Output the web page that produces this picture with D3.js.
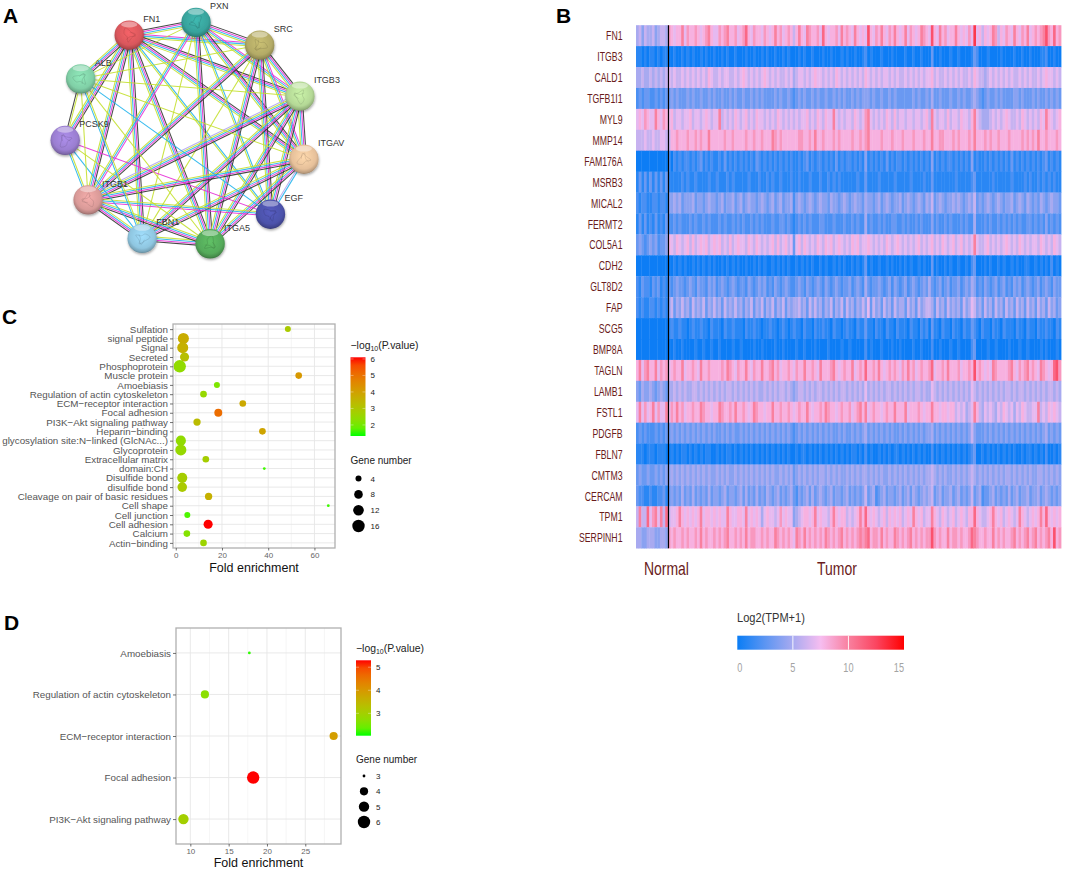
<!DOCTYPE html>
<html><head><meta charset="utf-8">
<script src="https://cdn.jsdelivr.net/npm/d3@7/dist/d3.min.js"></script>
<style>html,body{margin:0;padding:0;background:#fff}svg{display:block}</style>
</head><body><svg id="c" width="1065" height="869"></svg>
<script>
// ---------- Panel A: interaction network ----------
const netNodes = ["FN1","PXN","SRC","ITGB3","ITGAV","EGF","ITGA5","FBN1","ITGB1","PCSK9","ALB"];
const netNodeColors = ["#d9575c","#38a39c","#b3aa66","#b4d896","#e6c09a","#4c52aa","#55aa5a","#8fc6e0","#d99a98","#9a7ed0","#80cfa6"];
const netEdges = [
 ["FN1","PXN","kmcy"],["FN1","SRC","mcy"],["FN1","ITGB3","kmcy"],["FN1","ITGAV","kmcy"],["FN1","EGF","cy"],
 ["FN1","ITGA5","kmcy"],["FN1","FBN1","kmcy"],["FN1","ITGB1","kmcy"],["FN1","PCSK9","kmcy"],["FN1","ALB","kmcy"],
 ["PXN","SRC","kmcy"],["PXN","ITGB3","mcy"],["PXN","ITGAV","kmcy"],["PXN","EGF","cy"],["PXN","ITGA5","kmcy"],
 ["PXN","FBN1","y"],["PXN","ITGB1","mcy"],["PXN","ALB","y"],
 ["SRC","ITGB3","kmcy"],["SRC","ITGAV","mcy"],["SRC","EGF","kmcy"],["SRC","ITGA5","kmcy"],["SRC","ITGB1","kmcy"],
 ["SRC","FBN1","y"],["SRC","ALB","y"],
 ["ITGB3","ITGAV","kmcy"],["ITGB3","EGF","kmcy"],["ITGB3","ITGA5","kmcy"],["ITGB3","FBN1","kmcy"],["ITGB3","ITGB1","kmcyv"],["ITGB3","ALB","y"],
 ["ITGAV","EGF","cv"],["ITGAV","ITGA5","kmcy"],["ITGAV","FBN1","kmcy"],["ITGAV","ITGB1","kmcy"],["ITGAV","ALB","y"],
 ["EGF","ITGB1","mcy"],["EGF","PCSK9","m"],["EGF","ALB","c"],
 ["ITGA5","FBN1","kmcy"],["ITGA5","ITGB1","kmcy"],["ITGA5","ALB","y"],["ITGA5","PCSK9","y"],
 ["FBN1","ITGB1","kmcy"],["FBN1","ALB","cy"],["FBN1","PCSK9","c"],
 ["ITGB1","PCSK9","cy"],["ITGB1","ALB","y"],["PCSK9","ALB","ky"]
];
const edgeChannelColors = {k:"#333333",m:"#e52fd6",c:"#22b4ec",y:"#c4e030",v:"#b3a8f0"};

// ---------- Panel B: expression heatmap (Log2(TPM+1), hex digit per sample block) ----------
const heatGenes = ["FN1","ITGB3","CALD1","TGFB1I1","MYL9","MMP14","FAM176A","MSRB3","MICAL2","FERMT2","COL5A1","CDH2","GLT8D2","FAP","SCG5","BMP8A","TAGLN","LAMB1","FSTL1","PDGFB","FBLN7","CMTM3","CERCAM","TPM1","SERPINH1"];
const heatRows = [
"5646556456 6598788a79 8898789a87 7989a88978 9b87988798 78a8978986 8a87a98897 b878897a89 87a8787c87 98a8798a87 8a79878a98 7c87a89788 a878797d78 6878a96879 87a8798a78 989ac98b89",
"1101011010 1100100101 0100101001 0010100100 0100100101 0010010100 0101001000 1001000101 0010012010 0010001000 0100100100 0300100010 0100001320 0010000100 0010010010 0011200100",
"5565565656 5676766767 6767676876 6767766767 8767676787 6767667675 6776767877 6767687676 7676768767 6767767676 6767676767 7867667676 7676676876 6567676767 6766767676 6767877676",
"2323322323 2334343334 3433433434 3343343433 4334343433 3343433432 3434334343 3433434343 3434344434 3343343433 3333434334 3533433343 3434334543 2343343433 3344343334 3433434343",
"7879877a87 9878677677 8677678767 7a67676876 7867687767 6768767676 7677867687 6877a76767 7687679a76 7676876867 7677677678 6a76776867 7687768a76 5556767678 7667687676 7687a87678",
"6667667667 7668898889 8898988a88 8889889888 8988988988 8a98988888 8998898a88 9888989888 8988989a88 8898889888 9888988898 8a88998889 8988898a88 8989889888 9888898989 8a88988898",
"0000000000 0020212122 1212312121 1213121212 1212132121 2121212121 1212312122 1212131212 2121214121 2121312122 1212121212 1412121221 2121214121 1212121212 1312121212 1212312121",
"1313131313 1311111212 1121111211 2111212111 1121112112 1211211121 1211121112 1121212111 1112113111 1211111211 1112111121 1311111111 2111112311 1111211111 1211112121 1212121211",
"2122112212 2144545344 4534434544 3453445345 3454434543 4534534452 4543454345 4435443454 3454435443 4534543445 3454345435 4634543445 4543454634 3454345434 4534543543 4354345443",
"1313121312 1322323222 3232232322 2323223232 3223232322 2322332321 2323232223 3222322232 2323225232 2323223322 3232232322 2423223232 2232322522 2323223232 3232322332 3232423232",
"3432343423 3487687678 6867878678 7867686787 7687687676 7868678673 7868767687 6878678767 6878677876 7676876787 6767678676 7867687678 6786767a76 6786767678 7676876767 7687676876",
"0000000000 0000101010 0101010101 0010101010 0100101010 0101010100 1010101001 0100101010 0101013010 0100101001 0101001010 0301001010 0100102300 0101001010 0101001100 1010102010",
"2132213231 2132343323 4324332434 2343234323 3243234342 3243234322 3432432343 2432343233 4234325323 3432342432 3423432343 5323423423 3423435423 2432342342 3243423432 3423432433",
"2121122121 2146354645 3645463546 4536454645 3546354635 4635463545 5645364645 3546354636 4535464736 4536453645 5364536456 6536453645 4536457645 3645364536 4536453645 3645364534",
"0000000000 0012112110 1211211021 1102112111 0211211011 2110121012 1102110211 2110211012 1102113110 2110211021 1102110212 0311021102 1102113210 2110211021 1102110211 0211211021",
"0000000000 0000100100 0010010010 0100001001 0000100100 0010010000 1001000100 0010000100 1000002010 0010001001 0000100100 0200100010 0100002300 0010010000 1000100100 0010100010",
"8a79a88a79 8978988a78 8987a88988 8898a98798 8a87988a88 9a89788987 988a88987a 8889a87898 8a7898b889 8a87898987 98a8978988 9b78898a88 8978898c89 8787a98888 9a87989a89 87a9878bc9",
"4354454345 4355656565 5665656565 6565665656 5656565565 6565665654 5665656566 5656565665 6565657565 6565665656 5656566565 5765656565 6565657656 5656565656 6565665656 5656566565",
"7a7978a797 7a798a8978 8988a98878 8a98898a88 9878a98878 8a88988987 8988a87889 8a98878988 9789a8a789 8878988a88 8a78889878 8a88788788 6767567a86 5767657687 6757687667 7a67687876",
"2323222323 2334343434 3434343434 3343434334 3434343434 3434343432 3434343434 3434334343 3434345343 4343434334 3434343434 4534343434 3434346433 3434343434 3434343434 3434534343",
"1110111011 1001010110 1010101100 1010110101 0101010101 0101010100 1011010101 0101010101 0110102010 0101010110 1010101010 0201010101 0101012300 1010101010 1010010110 1010200101",
"3433433434 3445454545 4545454544 5454544545 4545454545 4544545453 4545454545 5454545445 4545455454 5454454545 4545454545 5654545445 4545456545 4545454545 5454545454 4554545454",
"3221121122 3134343534 3534343534 4345344345 3534353435 4345343453 2434535345 4345344345 3434346345 2345344345 3453543454 5634534453 4534346345 2334534343 5345344534 4534543434",
"6a66b79a7a 6b6778a878 7878a78878 7877a87788 7a78787578 7767978774 5678878a78 7768a87886 7678a8b878 7678687878 6787a87867 7a87687678 6787688b87 6678a87867 8767a87678 78a8b87878",
"5544555445 5498988989 8898a89889 8989a88989 8a89988989 88a9898987 a98a898989 8a98989a89 8989a9ab89 98a8988a98 989a898989 9c98988a89 989889ba98 8988a89898 89a8989a89 a8989a8c89"
];
const heatLegendTicks = [0,5,10,15];
const heatColorStops = ["#0a7df5","#5c95f2","#a8aaf0","#f6bdf0","#f9809f","#fb4560","#ff0000"];
const heatColorValues = [0,2.5,5,7.5,10,12.5,15];

// ---------- Panel C ----------
const cCategories = ["Sulfation","signal peptide","Signal","Secreted","Phosphoprotein","Muscle protein","Amoebiasis","Regulation of actin cytoskeleton","ECM\u2212receptor interaction","Focal adhesion","PI3K\u2212Akt signaling pathway","Heparin\u2212binding","glycosylation site:N\u2212linked (GlcNAc...)","Glycoprotein","Extracellular matrix","domain:CH","Disulfide bond","disulfide bond","Cleavage on pair of basic residues","Cell shape","Cell junction","Cell adhesion","Calcium","Actin\u2212binding"];
const cFold = [48.5,3.3,3,3.8,1.7,53.2,17.8,12,29,18.4,9.2,37.5,2.2,2.2,13,38.3,2.8,2.8,14.2,66,5,14,4.8,12];
const cGenes = [4,13,13,9,16,5,4,5,5,7,6,5,11,13,5,2,11,10,6,2,4,9,5,5];
const cLogP = [2.9,3.7,3.6,3.2,2.4,4.2,2.1,2.5,3.8,5.1,3.3,3.9,2.4,2.5,2.8,1.5,2.8,2.9,3.6,1.5,1.6,6.1,2.2,2.6];
const cXTicks = [0,20,40,60];
const cXMinor = [10,30,50];
const cColorTicks = [2,3,4,5,6];
const cSizeTicks = [4,8,12,16];

// ---------- Panel D ----------
const dCategories = ["Amoebiasis","Regulation of actin cytoskeleton","ECM\u2212receptor interaction","Focal adhesion","PI3K\u2212Akt signaling pathway"];
const dFold = [17.7,11.9,28.7,18.2,9.1];
const dGenes = [3,4,4,6,5];
const dLogP = [2.1,2.7,3.9,5.3,3.0];
const dXTicks = [10,15,20,25];
const dXMinor = [12.5,17.5,22.5,27.5];
const dColorTicks = [3,4,5];
const dSizeTicks = [3,4,5,6];

const svg = d3.select("#c");
const defs = svg.append("defs");
const SANS = "'Liberation Sans',Arial,sans-serif";

function narrowText(parent,t,x,y,size,sx,anchor,fill){
  return parent.append("text").attr("transform",`translate(${x},${y}) scale(${sx},1)`)
    .attr("font-family",SANS).attr("font-size",size).attr("text-anchor",anchor).attr("fill",fill).text(t);
}

// panel letters
[["A",3,23],["B",556,23],["C",2,324],["D",4,630]].forEach(([t,x,y])=>
  svg.append("text").attr("x",x).attr("y",y).attr("font-family",SANS).attr("font-weight",700).attr("font-size",21).attr("fill","#000").text(t));

// ===== Panel A =====
(function(){
  const ang = d3.scaleLinear().domain([0,netNodes.length-1]).range([-118,209.5]);
  const cx=186, cy=134, Rx=121, Ry=112, nr=14.7;
  const pos = new Map(netNodes.map((n,i)=>{const a=ang(i)*Math.PI/180;return [n,[cx+Rx*Math.cos(a),cy+Ry*Math.sin(a)]];}));
  const g = svg.append("g");
  const gap=1.6;
  netEdges.forEach(([a,b,ch])=>{
    const [x1,y1]=pos.get(a),[x2,y2]=pos.get(b);
    const dx=x2-x1,dy=y2-y1,l=Math.hypot(dx,dy),nx=-dy/l,ny=dx/l;
    [...ch].forEach((c,i)=>{
      const o=(i-(ch.length-1)/2)*gap;
      g.append("line").attr("x1",x1+nx*o).attr("y1",y1+ny*o).attr("x2",x2+nx*o).attr("y2",y2+ny*o)
       .attr("stroke",edgeChannelColors[c]).attr("stroke-width",1.05).attr("stroke-opacity",0.9);
    });
  });
  const blob = defs.append("filter").attr("id","nodeShadow").attr("x","-30%").attr("y","-30%").attr("width","160%").attr("height","160%");
  blob.append("feDropShadow").attr("dx",0.5).attr("dy",1.5).attr("stdDeviation",1.2).attr("flood-color","#000").attr("flood-opacity",0.35);
  const squiggle = d3.lineRadial().curve(d3.curveCatmullRom);
  const squiggleShape = [[0.2,3],[1.4,7],[2.4,4],[3.3,8],[4.1,3],[5,6],[5.8,9],[6.9,4],[8,7],[9,2],[10,6]];
  netNodes.forEach((n,i)=>{
    const [x,y]=pos.get(n), col=netNodeColors[i], id="ng"+i;
    const gr=defs.append("radialGradient").attr("id",id).attr("cx","50%").attr("cy","42%").attr("r","58%");
    const c=d3.color(col);
    [[0,c.brighter(0.35)],[0.72,c],[0.92,c.darker(0.55)],[1,c.darker(1.1)]].forEach(([o,k])=>gr.append("stop").attr("offset",o).attr("stop-color",k));
    const ng=svg.append("g").attr("transform",`translate(${x},${y})`);
    ng.append("circle").attr("r",nr).attr("fill",`url(#${id})`).attr("filter","url(#nodeShadow)");
    ng.append("path").attr("transform",`rotate(${i*67}) scale(0.9)`).attr("d",squiggle(squiggleShape)).attr("fill","none").attr("stroke",c.darker(1)).attr("stroke-width",0.55).attr("stroke-opacity",0.55);
    ng.append("ellipse").attr("cy",-nr*0.72).attr("rx",nr*0.55).attr("ry",nr*0.2).attr("fill","#fff").attr("opacity",0.4);
    svg.append("text").attr("x",x+14).attr("y",y-13).attr("font-family",SANS).attr("font-size",9).attr("fill","#333").text(n);
  });
})();

// ===== Panel B =====
(function(){
  const L=636,Rt=1061,T=25.2,B=548.2;
  const rows = heatRows.map(s=>[...s.replace(/\s/g,"")].map(h=>parseInt(h,16)));
  const nCol = rows[0].length;
  const x = d3.scaleBand().domain(d3.range(nCol)).range([L,Rt]);
  const y = d3.scaleBand().domain(heatGenes).range([T,B]);
  const color = d3.scaleLinear().domain(heatColorValues).range(heatColorStops).interpolate(d3.interpolateRgb);
  const blur = defs.append("filter").attr("id","soft").attr("x","-1%").attr("y","-1%").attr("width","102%").attr("height","102%");
  blur.append("feGaussianBlur").attr("stdDeviation","0.45 0.25");
  const g = svg.append("g").attr("filter","url(#soft)");
  heatGenes.forEach((gene,r)=>{
    g.selectAll(null).data(rows[r]).enter().append("rect")
     .attr("x",(d,i)=>x(i)).attr("y",y(gene)).attr("width",x.bandwidth()+0.4).attr("height",y.bandwidth()+0.3)
     .attr("fill",d=>color(d));
  });
  svg.append("line").attr("x1",x(12)+0.6).attr("x2",x(12)+0.6).attr("y1",T).attr("y2",B).attr("stroke","#000").attr("stroke-width",1.2);
  const lab = svg.append("g");
  heatGenes.forEach(d=>narrowText(lab,d,622.5,y(d)+y.bandwidth()/2+4.6,13,0.67,"end","#6a1c1c"));
  narrowText(lab,"Normal",644,575,18.5,0.755,"start","#6a1c1c");
  narrowText(lab,"Tumor",817,575,18.5,0.755,"start","#6a1c1c");
  // legend
  narrowText(svg,"Log2(TPM+1)",737,621.5,13.5,0.82,"start","#333");
  const lx = d3.scaleLinear().domain([0,15]).range([737.3,904]);
  const grad = defs.append("linearGradient").attr("id","heatLegend");
  heatColorValues.forEach((v,i)=>grad.append("stop").attr("offset",v/15).attr("stop-color",heatColorStops[i]));
  svg.append("rect").attr("x",lx(0)).attr("y",635.7).attr("width",lx(15)-lx(0)).attr("height",14).attr("fill","url(#heatLegend)");
  [5,10].forEach(v=>svg.append("line").attr("x1",lx(v)).attr("x2",lx(v)).attr("y1",635.7).attr("y2",649.7).attr("stroke","#fff").attr("stroke-width",0.9));
  heatLegendTicks.forEach(d=>narrowText(svg,String(d),lx(d)+(d===0?0:0),672,13.5,0.68,d===0?"start":d===15?"end":"middle","#a3a3a3"));
})();

// ===== Bubble panels =====
function bubblePanel(o){
  const x=d3.scaleLinear().domain(o.xDomain).range([o.L,o.R]);
  const y=d3.scalePoint().domain(o.cats).range([o.T,o.B]).padding(o.pad);
  const g=svg.append("g");
  const col=d3.scaleLinear().domain(o.cDomain).range(["#00ff00","#ff0000"]).interpolate(d3.interpolateLab).clamp(true);
  const size=d3.scaleLinear().domain(o.sDomain).range(o.sRange).clamp(true);
  // grid
  o.minor.forEach(v=>g.append("line").attr("x1",x(v)).attr("x2",x(v)).attr("y1",o.T).attr("y2",o.B).attr("stroke","#f0f0f0").attr("stroke-width",0.6));
  o.ticks.forEach(v=>g.append("line").attr("x1",x(v)).attr("x2",x(v)).attr("y1",o.T).attr("y2",o.B).attr("stroke","#e6e6e6").attr("stroke-width",0.9));
  o.cats.forEach(v=>g.append("line").attr("x1",o.L).attr("x2",o.R).attr("y1",y(v)).attr("y2",y(v)).attr("stroke","#e6e6e6").attr("stroke-width",0.9));
  // points
  g.selectAll("circle").data(o.cats.map((c,i)=>({c,f:o.fold[i],n:o.genes[i],p:o.logp[i]}))).enter().append("circle")
   .attr("cx",d=>x(d.f)).attr("cy",d=>y(d.c)).attr("r",d=>size(d.n)).attr("fill",d=>col(d.p));
  g.append("rect").attr("x",o.L).attr("y",o.T).attr("width",o.R-o.L).attr("height",o.B-o.T).attr("fill","none").attr("stroke","#b0b0b0").attr("stroke-width",1.3);
  // axes
  const ax=g.append("g").attr("transform",`translate(0,${o.B})`).call(d3.axisBottom(x).tickValues(o.ticks).tickSize(2.5).tickPadding(2));
  ax.select(".domain").remove();
  ax.selectAll("line").attr("stroke","#4d4d4d").attr("stroke-width",0.8);
  ax.selectAll("text").attr("font-family",SANS).attr("font-size",o.xFont).attr("fill","#666");
  const ay=g.append("g").attr("transform",`translate(${o.L},0)`).call(d3.axisLeft(y).tickSize(3).tickPadding(o.yPad));
  ay.select(".domain").remove();
  ay.selectAll("line").attr("stroke","#4d4d4d").attr("stroke-width",0.8);
  ay.selectAll("text").attr("font-family",SANS).attr("font-size",o.yFont).attr("fill","#555");
  g.append("text").attr("x",o.xTitleX).attr("y",o.xTitleY).attr("text-anchor","middle").attr("font-family",SANS).attr("font-size",12.5).attr("fill","#111").text("Fold enrichment");
  // colour legend
  const lt=g.append("text").attr("x",o.legX).attr("y",o.legTitleY).attr("font-family",SANS).attr("font-size",10.4).attr("fill","#222");
  lt.append("tspan").text("\u2212log");
  lt.append("tspan").attr("font-size",7).attr("dy",2).text("10");
  lt.append("tspan").attr("dy",-2).text("(P.value)");
  const gid="grad"+o.id, gr=defs.append("linearGradient").attr("id",gid).attr("x1",0).attr("x2",0).attr("y1",1).attr("y2",0);
  d3.range(0,1.01,0.1).forEach(t=>gr.append("stop").attr("offset",t).attr("stop-color",col(o.cDomain[0]+t*(o.cDomain[1]-o.cDomain[0]))));
  const ly=d3.scaleLinear().domain(o.cDomain).range([o.barB,o.barT]);
  g.append("rect").attr("x",o.legX).attr("y",o.barT).attr("width",15).attr("height",o.barB-o.barT).attr("fill",`url(#${gid})`);
  o.cTicks.forEach(v=>{
    [[o.legX,o.legX+3],[o.legX+12,o.legX+15]].forEach(([a,b])=>g.append("line").attr("x1",a).attr("x2",b).attr("y1",ly(v)).attr("y2",ly(v)).attr("stroke","#fff").attr("stroke-opacity",.6).attr("stroke-width",0.6));
    g.append("text").attr("x",o.legX+20).attr("y",ly(v)+2.9).attr("font-family",SANS).attr("font-size",8).attr("fill","#222").text(v);
  });
  // size legend
  g.append("text").attr("x",o.legX).attr("y",o.sizeTitleY).attr("font-family",SANS).attr("font-size",10).attr("fill","#222").text("Gene number");
  const sy=d3.scalePoint().domain(o.sTicks).range(o.sizeYs);
  o.sTicks.forEach(v=>{
    g.append("circle").attr("cx",o.legX+8).attr("cy",sy(v)).attr("r",size(v)).attr("fill","#000");
    g.append("text").attr("x",o.legX+20).attr("y",sy(v)+2.9).attr("font-family",SANS).attr("font-size",8).attr("fill","#222").text(v);
  });
}

bubblePanel({id:"C",cats:cCategories,fold:cFold,genes:cGenes,logp:cLogP,ticks:cXTicks,minor:cXMinor,
  L:173,R:335,T:324,B:548,xDomain:[-1.2,68.9],pad:0.55,yPad:2,yFont:9.8,xFont:8,
  xTitleX:254,xTitleY:572,cDomain:[1.33,6.1],sDomain:[2,4,8,12,16],sRange:[1.4,3,4.3,5.3,6.2],
  legX:350.5,legTitleY:349,barT:357.3,barB:436,cTicks:cColorTicks,sTicks:cSizeTicks,sizeTitleY:464,sizeYs:[478.6,526]});
bubblePanel({id:"D",cats:dCategories,fold:dFold,genes:dGenes,logp:dLogP,ticks:dXTicks,minor:dXMinor,
  L:176,R:341,T:628,B:844,xDomain:[8.13,29.66],pad:0.6,yPad:2,yFont:9.8,xFont:8,
  xTitleX:258.5,xTitleY:867,cDomain:[2.03,5.3],sDomain:[3,4,5,6],sRange:[1.4,4.1,5.2,6.2],
  legX:356,legTitleY:652,barT:660.3,barB:735.7,cTicks:dColorTicks,sTicks:dSizeTicks,sizeTitleY:763,sizeYs:[776,822]});
</script></body></html>
